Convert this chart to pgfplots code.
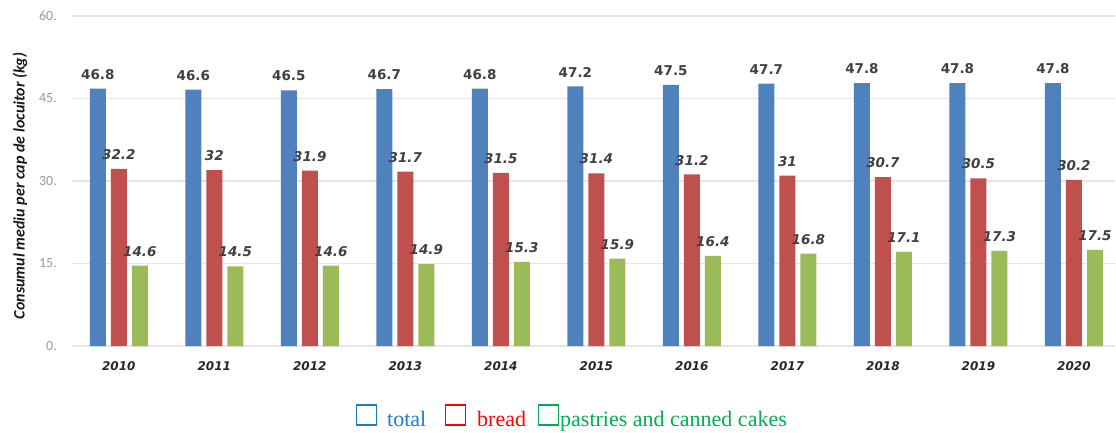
\documentclass[border=0pt]{standalone}
\usepackage{pgfplots}
\pgfplotsset{compat=1.18}
\usepackage{fontspec}
\setmainfont{Liberation Serif}
\newfontfamily\dejavu{DejaVu Sans}[ItalicFont={DejaVu Sans Oblique},BoldFont={DejaVu Sans Bold},BoldItalicFont={DejaVu Sans Bold Oblique}]
\newfontfamily\carlito{Carlito}
\definecolor{barblue}{HTML}{4F81BD}
\definecolor{barred}{HTML}{C0504D}
\definecolor{bargreen}{HTML}{9BBB59}
\definecolor{legblue}{RGB}{31,120,210}
\definecolor{legred}{RGB}{255,0,0}
\definecolor{leggreen}{RGB}{0,176,80}
\definecolor{lab}{HTML}{404040}
\definecolor{gridc}{HTML}{E6E6E6}
\begin{document}
\begin{tikzpicture}[x=1pt,y=1pt]
\useasboundingbox (0,0) rectangle (1116,432);
\begin{axis}[
  at={(72pt,86pt)}, anchor=south west,
  scale only axis, width=1043pt, height=330pt,
  xmin=-0.49, xmax=10.43, ymin=0, ymax=60,
  enlargelimits=false, clip=false,
  ybar=5pt, bar width=16pt,
  axis line style={draw=none},
  major tick length=0pt,
  /pgf/number format/assume math mode=true,
  ymajorgrids, grid style={color=gridc, line width=1.3pt},
  ytick={0,15,30,45,60},
  yticklabels={0.,15.,30.,45.,60.},
  yticklabel style={font=\carlito\fontsize{14}{16}\selectfont, text=black!40, anchor=east, inner sep=0pt, xshift=-15pt},
  xtick={0,...,10},
  xticklabels={2010,2011,2012,2013,2014,2015,2016,2017,2018,2019,2020},
  xticklabel style={font=\dejavu\bfseries\itshape\fontsize{12}{14}\selectfont, text=black!85, anchor=base, yshift=-24pt},
  ylabel={Consumul mediu per cap de locuitor (kg)},
  ylabel style={font=\carlito\bfseries\itshape\fontsize{16}{18}\selectfont, text=black!90, at={(axis description cs:-0.0499,0.485)}, anchor=center},
  nodes near coords={\pgfmathprintnumber[assume math mode=true]{\pgfplotspointmeta}},
  every node near coord/.append style={inner sep=0pt, yshift=9pt, text=lab},
]
\addplot[fill=barblue, draw=none, nodes near coords style={font=\dejavu\bfseries\fontsize{13.5}{16}\selectfont}] coordinates {
(0,46.8) (1,46.6) (2,46.5) (3,46.7) (4,46.8) (5,47.2) (6,47.5) (7,47.7) (8,47.8) (9,47.8) (10,47.8)};
\addplot[fill=barred, draw=none, nodes near coords style={font=\dejavu\bfseries\itshape\fontsize{13.5}{16}\selectfont}] coordinates {
(0,32.2) (1,32) (2,31.9) (3,31.7) (4,31.5) (5,31.4) (6,31.2) (7,31) (8,30.7) (9,30.5) (10,30.2)};
\addplot[fill=bargreen, draw=none, nodes near coords style={font=\dejavu\bfseries\itshape\fontsize{13.5}{16}\selectfont}] coordinates {
(0,14.6) (1,14.5) (2,14.6) (3,14.9) (4,15.3) (5,15.9) (6,16.4) (7,16.8) (8,17.1) (9,17.3) (10,17.5)};
\end{axis}
% legend
\node[draw=legblue, line width=1.4pt, minimum width=20pt, minimum height=20pt, inner sep=0pt, anchor=south west] at (355.5,6.5) {};
\node[anchor=base west, inner sep=0pt, text=legblue, font=\fontsize{22}{24}\selectfont] at (387,6) {total};
\node[draw=legred, line width=1.4pt, minimum width=20pt, minimum height=20pt, inner sep=0pt, anchor=south west] at (444.5,6.5) {};
\node[anchor=base west, inner sep=0pt, text=legred, font=\fontsize{22}{24}\selectfont] at (477,6) {bread};
\node[draw=leggreen, line width=1.4pt, minimum width=20pt, minimum height=20pt, inner sep=0pt, anchor=south west] at (537.5,6.5) {};
\node[anchor=base west, inner sep=0pt, text=leggreen, font=\fontsize{22}{24}\selectfont] at (560,6) {pastries and canned cakes};
\end{tikzpicture}
\end{document}
